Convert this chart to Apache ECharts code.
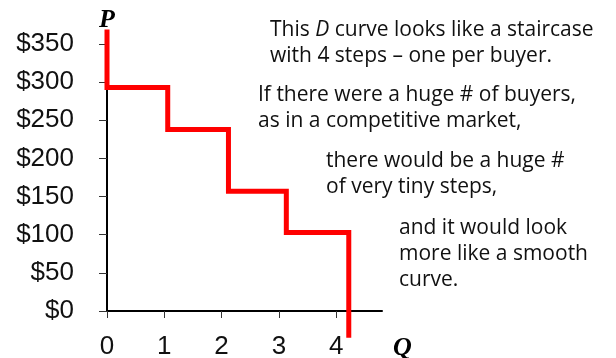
<!DOCTYPE html>
<html>
<head>
<meta charset="utf-8">
<script src="https://cdn.jsdelivr.net/npm/echarts@6/dist/echarts.min.js"></script>
<style>
  html, body { margin: 0; padding: 0; background: #fff; }
  #chart { width: 616px; height: 358px; }
</style>
</head>
<body>
<div id="chart"></div>
<script>
// step edges (quantity) and price levels
const stepQ = [0, 1.06, 2.12, 3.13, 4.22];
const stepTop = 369;
const stepP = [293, 238, 157, 103];
const stepBottom = -35;

const qTicks = [0, 1, 2, 3, 4];
const pTicks = [0, 50, 100, 150, 200, 250, 300, 350];

const notes = [
  { x: 270, y: 30, lines: ['This {i|D} curve looks like a staircase', 'with 4 steps \u2013 one per buyer.'] },
  { x: 258, y: 95, lines: ['If there were a huge # of buyers,', 'as in a competitive market,'] },
  { x: 326, y: 161, lines: ['there would be a huge #', 'of very tiny steps,'] },
  { x: 399, y: 228, lines: ['and it would look', 'more like a smooth', 'curve.'] }
];

// staircase: vertical at each edge, then across to the next edge
function buildStairs() {
  const pts = [[stepQ[0], stepTop]];
  for (let i = 0; i < stepP.length; i++) {
    pts.push([stepQ[i], stepP[i]]);
    pts.push([stepQ[i + 1], stepP[i]]);
  }
  pts.push([stepQ[stepQ.length - 1], stepBottom]);
  return pts;
}

const chart = echarts.init(document.getElementById('chart'));

const TEXT_FONT = '"Open Sans", sans-serif';
const TEXT_SIZE = 21;

chart.setOption({
  animation: false,
  grid: { left: 107, right: 234, top: 44, bottom: 47, outerBoundsMode: 'none', containLabel: false },
  xAxis: {
    type: 'value',
    min: 0,
    max: 4.8,
    interval: 1,
    splitLine: { show: false },
    axisLine: { show: true, lineStyle: { color: '#000', width: 2 } },
    axisTick: { show: true, length: 7, customValues: qTicks, lineStyle: { color: '#333', width: 1 } },
    axisLabel: {
      customValues: qTicks,
      margin: 23,
      color: '#111',
      fontSize: 26,
      fontFamily: '"Liberation Sans", Arial, sans-serif'
    },
    name: 'Q',
    nameLocation: 'end',
    nameGap: 11,
    nameTextStyle: {
      fontFamily: '"Liberation Serif", serif',
      fontStyle: 'italic',
      fontWeight: 'bold',
      fontSize: 26,
      color: '#000',
      verticalAlign: 'top',
      padding: [24, 0, 0, 0]
    }
  },
  yAxis: {
    type: 'value',
    min: 0,
    max: 350,
    interval: 50,
    splitLine: { show: false },
    axisLine: { show: true, lineStyle: { color: '#000', width: 2 } },
    axisTick: { show: true, length: 8, customValues: pTicks, lineStyle: { color: '#333', width: 1 } },
    axisLabel: {
      customValues: pTicks,
      margin: 33,
      color: '#111',
      fontSize: 26,
      fontFamily: '"Liberation Sans", Arial, sans-serif',
      formatter: v => '$' + v
    },
    name: 'P',
    nameLocation: 'end',
    nameGap: 11,
    nameTextStyle: {
      fontFamily: '"Liberation Serif", serif',
      fontStyle: 'italic',
      fontWeight: 'bold',
      fontSize: 26,
      color: '#000',
      align: 'center'
    }
  },
  graphic: notes.map(n => ({
    type: 'text',
    left: n.x,
    top: n.y - 13,
    style: {
      text: n.lines.join('\n'),
      font: TEXT_SIZE + 'px ' + TEXT_FONT,
      fill: '#111',
      lineHeight: 26,
      rich: {
        i: { fontStyle: 'italic', fontSize: TEXT_SIZE, fontFamily: TEXT_FONT, fill: '#111', lineHeight: 26 }
      }
    }
  })),
  series: [
    {
      type: 'line',
      data: buildStairs(),
      showSymbol: false,
      clip: false,
      silent: true,
      lineStyle: { color: '#ff0000', width: 5, cap: 'butt', join: 'miter' }
    }
  ]
});
</script>
</body>
</html>
